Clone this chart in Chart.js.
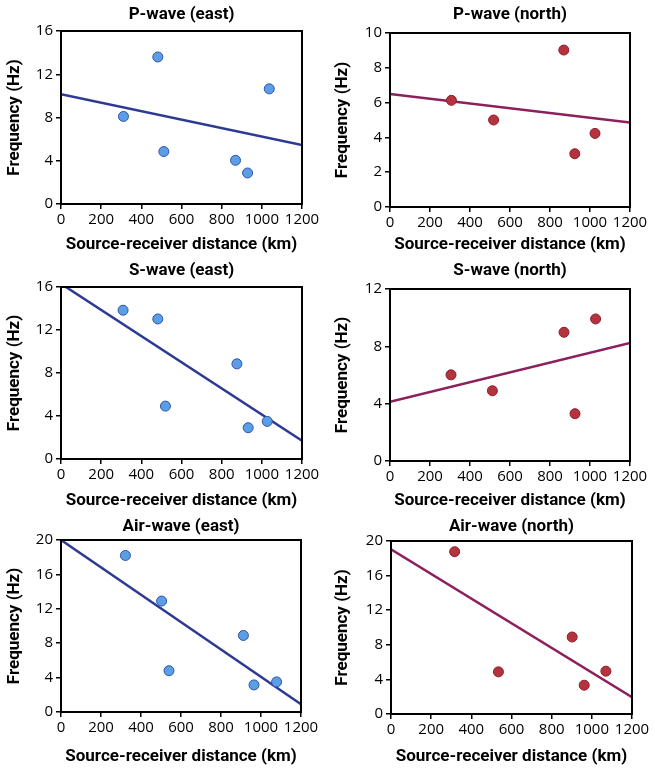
<!DOCTYPE html>
<html>
<head>
<meta charset="utf-8">
<script src="https://cdn.jsdelivr.net/npm/chart.js@4"></script>
<style>
  html, body { margin: 0; padding: 0; background: #fff; }
  #wrap { position: relative; width: 655px; height: 768px; }
  canvas { position: absolute; }
</style>
</head>
<body>
<div id="wrap">
  <canvas id="c0" width="327" height="256" style="left:0;top:0"></canvas>
  <canvas id="c1" width="327" height="256" style="left:328px;top:0"></canvas>
  <canvas id="c2" width="327" height="256" style="left:0;top:256px"></canvas>
  <canvas id="c3" width="327" height="256" style="left:328px;top:256px"></canvas>
  <canvas id="c4" width="327" height="256" style="left:0;top:512px"></canvas>
  <canvas id="c5" width="327" height="256" style="left:328px;top:512px"></canvas>
</div>
<script>
// valori
const titles = ['P-wave (east)', 'P-wave (north)', 'S-wave (east)', 'S-wave (north)', 'Air-wave (east)', 'Air-wave (north)'];
const xLabel = 'Source-receiver distance (km)';
const yLabel = 'Frequency (Hz)';

const fitX = [0, 1200];

const pEastX = [311, 482, 512, 869, 929, 1037];
const pEastY = [8.1, 13.6, 4.85, 4.04, 2.87, 10.65];
const pEastFit = [10.15, 5.46];

const pNorthX = [307, 518, 869, 924, 1025];
const pNorthY = [6.13, 5.0, 9.02, 3.06, 4.23];
const pNorthFit = [6.5, 4.85];

const sEastX = [309, 482, 520, 876, 932, 1027];
const sEastY = [13.84, 13.03, 4.92, 8.85, 2.91, 3.5];
const sEastFit = [16.3, 1.7];

const sNorthX = [305, 512, 870, 925, 1028];
const sNorthY = [6.01, 4.9, 8.98, 3.3, 9.91];
const sNorthFit = [4.13, 8.24];

const airEastX = [322, 503, 540, 912, 965, 1078];
const airEastY = [18.2, 12.9, 4.8, 8.9, 3.15, 3.5];
const airEastFit = [20.0, 0.9];

const airNorthX = [317, 535, 902, 962, 1070];
const airNorthY = [18.76, 4.87, 8.9, 3.33, 4.95];
const airNorthFit = [19.03, 1.93];

const yMax = [16, 10, 16, 12, 20, 20];
const yStep = [4, 2, 4, 4, 4, 4];

const eastStyle = { fill: '#5b9ee6', edge: '#2c55a8', line: '#2d3a94' };
const northStyle = { fill: '#b5333f', edge: '#8a1f2b', line: '#8c1f5c' };

// area del grafico per ogni pannello: left, right, top, bottom
const areas = [
  [61, 302, 31, 204],
  [62, 302, 33, 207],
  [61, 302, 31, 203],
  [62, 302, 33, 205],
  [61, 301, 28, 200],
  [63, 304, 29, 202]
];

const panels = [
  [pEastX, pEastY, pEastFit, eastStyle],
  [pNorthX, pNorthY, pNorthFit, northStyle],
  [sEastX, sEastY, sEastFit, eastStyle],
  [sNorthX, sNorthY, sNorthFit, northStyle],
  [airEastX, airEastY, airEastFit, eastStyle],
  [airNorthX, airNorthY, airNorthFit, northStyle]
];

const FONT = "Roboto, 'Open Sans', sans-serif";
const TICKFONT = "'Open Sans', 'DejaVu Sans', sans-serif";

const boxPlugin = {
  id: 'box',
  afterDraw(chart) {
    const a = chart.chartArea;
    const ctx = chart.ctx;
    ctx.save();
    ctx.strokeStyle = '#000';
    ctx.lineWidth = 2;
    ctx.strokeRect(a.left, a.top, a.right - a.left, a.bottom - a.top);
    ctx.restore();
  }
};

function createChart(i) {
  const [xs, ys, fit, st] = panels[i];
  const [L, R, T, B] = areas[i];
  const titleTop = 4.8;
  const titleLine = 17 * 1.2;

  new Chart(document.getElementById('c' + i), {
    type: 'scatter',
    data: {
      datasets: [
        {
          type: 'line',
          data: fitX.map((x, k) => ({ x: x, y: fit[k] })),
          borderColor: st.line,
          borderWidth: 2.5,
          pointRadius: 0,
          fill: false,
          order: 2
        },
        {
          data: xs.map((x, k) => ({ x: x, y: ys[k] })),
          backgroundColor: st.fill,
          borderColor: st.edge,
          borderWidth: 1,
          pointRadius: 5,
          order: 1
        }
      ]
    },
    options: {
      responsive: false,
      animation: false,
      layout: { padding: { left: 0, right: 327 - R, top: 0, bottom: 0 } },
      plugins: {
        legend: { display: false },
        tooltip: { enabled: false },
        title: {
          display: true,
          text: titles[i],
          fullSize: false,
          color: '#000',
          font: { family: FONT, size: 17, weight: 'bold' },
          padding: { top: titleTop, bottom: T - titleTop - titleLine }
        }
      },
      scales: {
        x: {
          type: 'linear',
          min: 0,
          max: 1200,
          ticks: { stepSize: 200, color: '#000', padding: 2, maxRotation: 0, minRotation: 0, autoSkip: false,
                   callback: v => String(v), font: { family: TICKFONT, size: 15 } },
          grid: { drawOnChartArea: false, tickLength: 5, color: '#000', lineWidth: 1.5 },
          border: { color: '#000', width: 2 },
          title: { display: true, text: xLabel, color: '#000', padding: { top: 0, bottom: 1 },
                   font: { family: FONT, size: 17, weight: 'bold' } },
          afterFit: s => { s.height = 256 - B; }
        },
        y: {
          min: 0,
          max: yMax[i],
          ticks: { stepSize: yStep[i], color: '#000', padding: 3, callback: v => String(v),
                   font: { family: TICKFONT, size: 15 } },
          grid: { drawOnChartArea: false, tickLength: 5, color: '#000', lineWidth: 1.5 },
          border: { color: '#000', width: 2 },
          title: { display: true, text: yLabel, color: '#000', padding: { top: 5, bottom: 0 },
                   font: { family: FONT, size: 17, weight: 'bold' } },
          afterFit: s => { s.width = L; }
        }
      }
    },
    plugins: [boxPlugin]
  });
}

for (let i = 0; i < 6; i++) createChart(i);
</script>
</body>
</html>
